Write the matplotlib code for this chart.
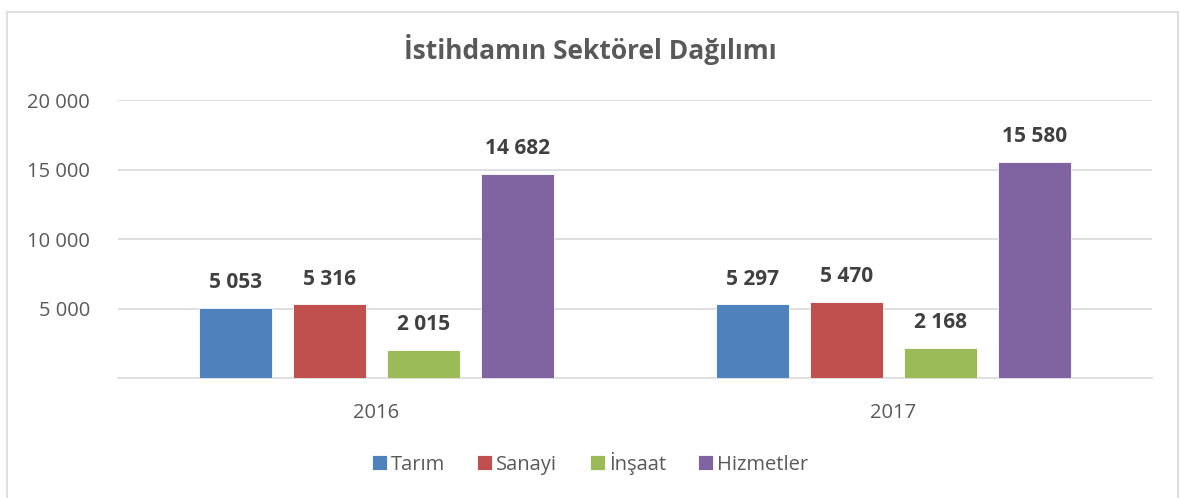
import matplotlib.pyplot as plt
import numpy as np
from matplotlib.patches import Rectangle

plt.rcParams['font.family'] = ['Open Sans', 'DejaVu Sans']

# data
years = ["2016", "2017"]
sectors = ["Tarım", "Sanayi", "İnşaat", "Hizmetler"]
tarim = [5053, 5297]
sanayi = [5316, 5470]
insaat = [2015, 2168]
hizmetler = [14682, 15580]
yticks = [5000, 10000, 15000, 20000]

series = [tarim, sanayi, insaat, hizmetler]
colors = ["#4F81BD", "#C0504D", "#9BBB59", "#8064A2"]

def fmt(v):
    return "{:,}".format(v).replace(",", " ")

fig = plt.figure(figsize=(11.8, 4.98), dpi=100)
ax = fig.add_axes([0.1, 0.241, 0.876, 0.558])

x = np.arange(len(years))
step = 0.182
width = 0.141
for i, (vals, name, c) in enumerate(zip(series, sectors, colors)):
    pos = x + (i - 1.5) * step
    ax.bar(pos, vals, width, color=c, label=name, zorder=3,
           edgecolor="white", linewidth=0.6)
    for p, v in zip(pos, vals):
        ax.annotate(fmt(v), (p, v), xytext=(0, 18), textcoords="offset points",
                    ha="center", va="center", fontsize=15, fontweight="bold",
                    color="#404040")

ax.set_xlim(-0.5, 1.5)
ax.set_ylim(0, 20000)
ax.set_yticks(yticks)
ax.set_yticklabels([fmt(t) for t in yticks])
ax.set_xticks(x)
ax.set_xticklabels(years)
ax.tick_params(axis="both", length=0, labelsize=14.5, colors="#595959")
ax.tick_params(axis="y", pad=20)
ax.tick_params(axis="x", pad=18)
ax.grid(axis="y", color="#D9D9D9", linewidth=1.2, zorder=0)
for s in ["top", "right", "left"]:
    ax.spines[s].set_visible(False)
ax.spines["bottom"].set_color("#D9D9D9")
ax.spines["bottom"].set_linewidth(1.2)

fig.text(0.5, 0.9, "İstihdamın Sektörel Dağılımı", ha="center", va="center",
         fontsize=19, fontweight="bold", color="#595959")

ax.legend(loc="center", bbox_to_anchor=(0.5, 0.07), bbox_transform=fig.transFigure,
          ncol=4, frameon=False, fontsize=14.5, handlelength=0.75, handleheight=0.75,
          handletextpad=0.2, columnspacing=1.6, labelcolor="#595959")

fig.patches.append(Rectangle((7 / 1180, -0.01), 1172 / 1180 - 0.0005, 1.0 - 7 / 498,
                             transform=fig.transFigure, fill=False,
                             edgecolor="#D9D9D9", linewidth=1.2))

fig.savefig("out.png", dpi=100, facecolor="white")
